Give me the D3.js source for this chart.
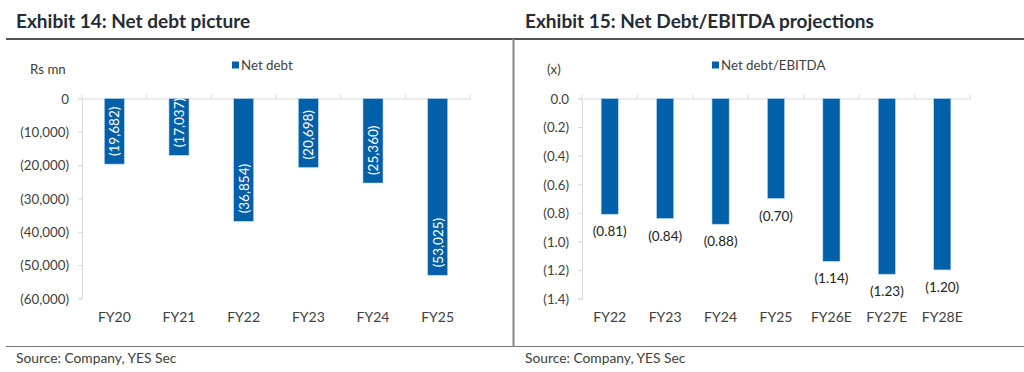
<!DOCTYPE html>
<html>
<head>
<meta charset="utf-8">
<script src="https://cdn.jsdelivr.net/npm/d3@7"></script>
<style>
  body { margin: 0; background: #fff; }
  svg { display: block; font-family: Lato, "Open Sans", sans-serif; }
  .title { font-size: 19px; font-weight: bold; fill: #262b36; }
  .src { font-size: 13.8px; fill: #404040; }
  .tick text, .unit, .legend text { font-size: 13.3px; fill: #404040; }
  .lbl { font-size: 13.5px; }
  .xl { font-size: 14px; }
</style>
</head>
<body>
<svg id="chart" width="1024" height="372"></svg>
<script>
// left panel data
var years1 = ['FY20', 'FY21', 'FY22', 'FY23', 'FY24', 'FY25'];
var netDebt = [-19682, -17037, -36854, -20698, -25360, -53025];
var ticks1 = [0, -10000, -20000, -30000, -40000, -50000, -60000];

// right panel data
var years2 = ['FY22', 'FY23', 'FY24', 'FY25', 'FY26E', 'FY27E', 'FY28E'];
var ndEbitda = [-0.81, -0.84, -0.88, -0.70, -1.14, -1.23, -1.20];
var ticks2 = [0, -0.2, -0.4, -0.6, -0.8, -1.0, -1.2, -1.4];

var blue = '#0160a8';
var svg = d3.select('#chart');

// frame lines
svg.append('line').attr('x1', 6).attr('x2', 1024).attr('y1', 39).attr('y2', 39)
    .attr('stroke', '#555').attr('stroke-width', 2);
svg.append('line').attr('x1', 6).attr('x2', 1024).attr('y1', 346.5).attr('y2', 346.5)
    .attr('stroke', '#777').attr('stroke-width', 1);
svg.append('line').attr('x1', 513.5).attr('x2', 513.5).attr('y1', 39).attr('y2', 347)
    .attr('stroke', '#888').attr('stroke-width', 2);

svg.append('text').attr('class', 'title').attr('x', 16).attr('y', 28).text('Exhibit 14: Net debt picture');
svg.append('text').attr('class', 'title').attr('x', 525).attr('y', 28).text('Exhibit 15: Net Debt/EBITDA projections');
svg.append('text').attr('class', 'src').attr('x', 16).attr('y', 363).text('Source: Company, YES Sec');
svg.append('text').attr('class', 'src').attr('x', 525).attr('y', 363).text('Source: Company, YES Sec');

function fmtParen(f) {
    return (v) => v < 0 ? '(' + f(-v) + ')' : f(v);
}

function panel(o) {
    var g = svg.append('g');
    var x = d3.scaleBand().domain(o.cats).range([o.x0, o.x1]).paddingInner(0.69).paddingOuter(0.345);
    var y = d3.scaleLinear().domain([0, o.min]).range([98.5, 298.5]);

    // y axis
    var ya = g.append('g').attr('transform', 'translate(' + o.x0 + ',0)')
        .call(d3.axisLeft(y).tickValues(o.ticks).tickSize(4).tickPadding(9).tickFormat(o.tickFmt));
    ya.select('.domain').attr('stroke', '#d9d9d9');
    ya.selectAll('.tick line').attr('stroke', '#d9d9d9');
    ya.selectAll('.tick text').attr('dy', '0.36em').style('font-family', 'Lato');

    // x axis at zero, labels at bottom
    var xb = d3.scaleBand().domain(o.cats).range([o.x0, o.x1]);
    var xa = g.append('g').attr('transform', 'translate(0,' + y(0) + ')')
        .call(d3.axisBottom(xb).tickSize(0).tickSizeOuter(0).tickFormat(''));
    xa.select('.domain').attr('stroke', '#d9d9d9');
    g.selectAll('.sep').data(o.cats.concat(['end'])).enter().append('line')
        .attr('x1', (d, i) => o.x0 + i * xb.step()).attr('x2', (d, i) => o.x0 + i * xb.step())
        .attr('y1', y(0) - 4).attr('y2', y(0)).attr('stroke', '#d9d9d9');

    g.selectAll('.xl').data(o.cats).enter().append('text').attr('class', 'xl')
        .attr('x', (d) => xb(d) + xb.bandwidth() / 2).attr('y', 322)
        .attr('text-anchor', 'middle').attr('fill', '#404040').text((d) => d);

    // bars
    g.selectAll('.bar').data(o.vals).enter().append('rect')
        .attr('x', (d, i) => x(o.cats[i]))
        .attr('y', y(0))
        .attr('width', x.bandwidth())
        .attr('height', (d) => y(d) - y(0))
        .attr('fill', blue).attr('stroke', '#bdd7ee').attr('stroke-width', 0.6);

    // legend
    var lg = g.append('g').attr('class', 'legend').attr('transform', 'translate(' + o.legX + ',65)');
    lg.append('rect').attr('x', 0).attr('y', -3.5).attr('width', 7).attr('height', 7).attr('fill', blue);
    lg.append('text').attr('x', 9).attr('y', 0).attr('dy', '0.36em').text(o.legend);

    g.append('text').attr('class', 'unit').attr('x', o.unitX).attr('y', 69).attr('dy', '0.36em').text(o.unit);
    return { x: x, y: y, g: g };
}

var p1 = panel({ cats: years1, vals: netDebt, ticks: ticks1, min: -60000, x0: 82, x1: 470,
    tickFmt: fmtParen(d3.format(',')), legX: 232, legend: 'Net debt', unit: 'Rs mn', unitX: 30 });
p1.g.selectAll('.vl').data(netDebt).enter().append('text').attr('class', 'lbl')
    .attr('transform', (d, i) => 'translate(' + (p1.x(years1[i]) + p1.x.bandwidth() / 2) + ',' + (p1.y(d) - 8) + ') rotate(-90)')
    .attr('dy', '0.36em').attr('fill', '#fff').attr('text-anchor', 'start')
    .text((d) => fmtParen(d3.format(','))(d));

var p2 = panel({ cats: years2, vals: ndEbitda, ticks: ticks2, min: -1.4, x0: 582, x1: 970,
    tickFmt: fmtParen(d3.format('.1f')), legX: 712, legend: 'Net debt/EBITDA', unit: '(x)', unitX: 547 });
p2.g.selectAll('.vl').data(ndEbitda).enter().append('text').attr('class', 'lbl')
    .attr('x', (d, i) => p2.x(years2[i]) + p2.x.bandwidth() / 2)
    .attr('y', (d) => p2.y(d) + 22)
    .attr('text-anchor', 'middle').attr('fill', '#222')
    .text((d) => fmtParen(d3.format('.2f'))(d));
</script>
</body>
</html>
